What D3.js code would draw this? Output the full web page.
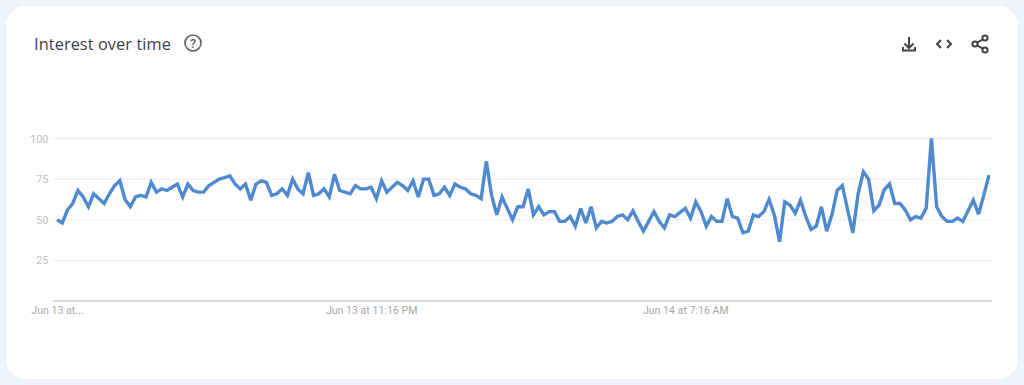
<!DOCTYPE html>
<html><head><meta charset="utf-8">
<script src="https://cdn.jsdelivr.net/npm/d3@7"></script>
<style>
html,body{margin:0;padding:0;background:#f0f4fa;overflow:hidden}
svg{display:block}
</style></head><body><div id="chart"></div>
<script>
const title = "Interest over time";
const values = [50,48,56,60,68,64,58,66,63,60,66,71,74,62.5,58,64,65,64,73,67,69,68,70,72,64,72,68,67,67,71,73,75,76,77,72,69,72,62,72,74,73,65,66,69,65,75,69,66,79,65,66,69,64,78,
68,67,66,71,69,69,70,63,74,67,70,73,71,68,74,64,75,75,65,66,70,65,72,70,69,66,65,63,86,65,53,64,57,50,58,58,69,53,58,53,55,55,49,49,52,46,57,48,58,45,49,48,49,52,53,50,55.5,49,43,49,55,49,45,53,52,54.5,
57,51,61,55,46,52,49,49,63,52,51,42,43,53,52,55,62.5,53,36.5,61,59,54,62,52,44,46,58,43,53,68,71,56,42,66,79.5,75,55.5,59,68.5,72,60,60,56,50,52,51,57,100,58,52,49,49,51,49,55.5,62,53.5,65,77.5];
const yTicks = [25,50,75,100];
const xTickIndex = [0,60,120];
const xTickLabels = ["Jun 13 at...","Jun 13 at 11:16 PM","Jun 14 at 7:16 AM"];

const W=1024,H=385;
const svg=d3.select("#chart").append("svg").attr("width",W).attr("height",H);
svg.append("rect").attr("x",6).attr("y",6).attr("width",1012).attr("height",373).attr("rx",20).attr("fill","#fff");

const x=d3.scaleLinear().domain([0,values.length-1]).range([57,989]);
const gridX=d3.scaleLinear().domain([0,1]).range([53,992]);
const y=d3.scaleLinear().domain([0,100]).range([301,138.5]);

const yAxis=d3.axisLeft(y).tickValues(yTicks).tickSize(0).tickPadding(0);
const gy=svg.append("g").attr("transform","translate(48.5,0)").call(yAxis);
gy.select(".domain").remove();
gy.selectAll("text").attr("fill","#c2c2c2").style("font","11px Roboto");
svg.append("g").selectAll("line").data(yTicks).join("line")
  .attr("x1",gridX(0)).attr("x2",gridX(1)).attr("y1",d=>y(d)).attr("y2",d=>y(d))
  .attr("stroke","#ebebeb").attr("stroke-width",1);

const xAxis=d3.axisBottom(x).tickValues(xTickIndex).tickSize(0).tickPadding(5)
  .tickFormat((d,i)=>xTickLabels[i]);
const gx=svg.append("g").attr("transform","translate(0,301)").call(xAxis);
gx.select(".domain").remove();
gx.selectAll("text").attr("fill","#a8a8a8").style("font","10.6px Roboto");
svg.append("line").attr("x1",gridX(0)).attr("x2",gridX(1)).attr("y1",301).attr("y2",301)
  .attr("stroke","#cfcfcf").attr("stroke-width",1.5);

svg.append("path").datum(values)
  .attr("d",d3.line().x((d,i)=>x(i)).y(d=>y(d)))
  .attr("fill","none").attr("stroke","#4f8ad0").attr("stroke-width",3.4).attr("stroke-linejoin","miter").attr("stroke-miterlimit",3);

svg.append("text").attr("x",34).attr("y",50).text(title)
  .attr("fill","#3c4043").style("font","16.3px 'Open Sans'").style("letter-spacing","0.1px");

const ic="#5f6368";
const help=svg.append("g").attr("transform","translate(193,43)");
help.append("circle").attr("r",8).attr("fill","none").attr("stroke",ic).attr("stroke-width",1.6);
help.append("text").attr("text-anchor","middle").attr("y",4.5).text("?").attr("fill",ic).style("font","500 12.5px Roboto");

const icons=svg.append("g").attr("fill","none").attr("stroke","#444").attr("stroke-width",2);
icons.append("path").attr("d","M909 37V48M904.5 43.5L909 48L913.5 43.5M903 47V50.5H915V47");
icons.append("path").attr("d","M941 40L937 44L941 48M947 40L951 44L947 48");
icons.append("path").attr("d","M985 38L975 44L985 50");
[[985,38],[975,44],[985,50]].forEach(p=>icons.append("circle").attr("cx",p[0]).attr("cy",p[1]).attr("r",2.6).attr("fill","#fff"));
</script></body></html>
